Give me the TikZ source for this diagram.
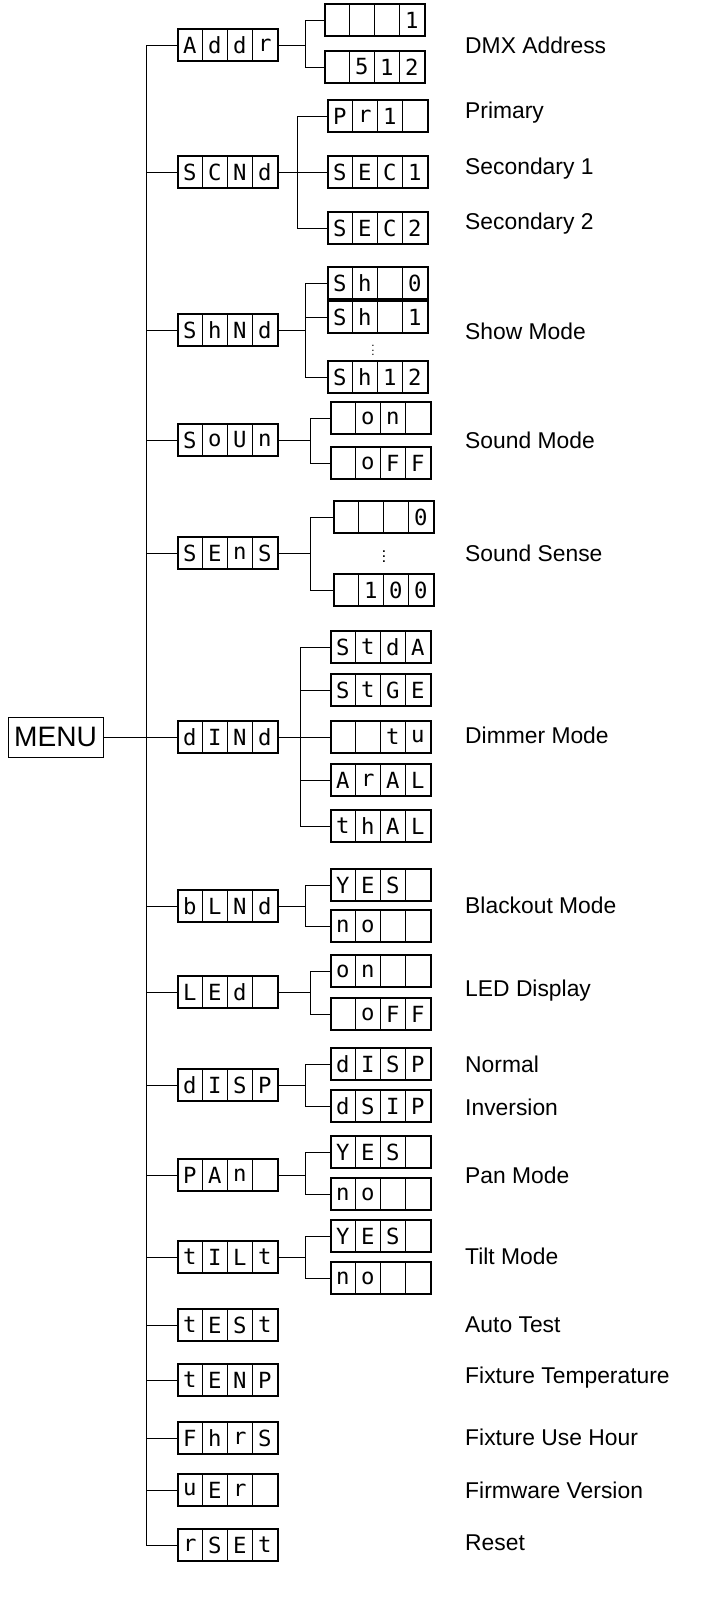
\documentclass[tikz,border=0pt]{standalone}
\usepackage{fontspec}
\setmainfont{Liberation Sans}
\newfontfamily\segfont{DejaVu Sans Mono}
\usetikzlibrary{positioning}
\tikzset{
  lcdbox/.style={draw,very thick,minimum width=3cm,minimum height=0.96cm,inner sep=0pt},
  cell/.style={inner sep=0pt,font=\segfont\fontsize{19}{19}\selectfont},
  lbl/.style={anchor=west,inner sep=0pt,font=\fontsize{19.5}{21}\selectfont},
  wire/.style={thick}
}
% name, x, y, four cells
\newcommand{\lcd}[7]{%
  \node[lcdbox] (#1) at (#2,#3) {};
  \foreach \i/\c in {1/#4,2/#5,3/#6,4/#7}{
    \node[cell] at ([xshift={(\i-0.5)*0.75cm}]#1.west) {\c};}
  \foreach \i in {1,2,3}{
    \draw[thin] ([xshift=\i*0.75cm]#1.north west) -- ([xshift=\i*0.75cm]#1.south west);}
}
\begin{document}
\begin{tikzpicture}[x=0.03cm,y=-0.03cm]
    \useasboundingbox (0,0) rectangle (710,1621);
    \node[draw,thick,minimum width=2.85cm,minimum height=1.2cm,inner sep=0pt,
          font=\fontsize{24}{26}\selectfont] (menu) at (55.5,737) {MENU};
    \coordinate (spinetop) at (146,45);
    \coordinate (spinebot) at (146,1545);
    \draw[wire] (spinetop) -- (spinebot);
    \draw[wire] (menu.east) -- (menu.east -| spinetop);
    % first level
    \lcd{addr}{228}{45}{A}{d}{d}{r}
    \lcd{scnd}{228}{172}{S}{C}{N}{d}
    \lcd{shnd}{228}{330}{S}{h}{N}{d}
    \lcd{soun}{228}{440}{S}{o}{U}{n}
    \lcd{sens}{228}{553}{S}{E}{n}{S}
    \lcd{dind}{228}{737}{d}{I}{N}{d}
    \lcd{blnd}{228}{906}{b}{L}{N}{d}
    \lcd{led}{228}{992}{L}{E}{d}{}
    \lcd{disp}{228}{1085}{d}{I}{S}{P}
    \lcd{pan}{228}{1175}{P}{A}{n}{}
    \lcd{tilt}{228}{1257}{t}{I}{L}{t}
    \lcd{test}{228}{1325}{t}{E}{S}{t}
    \lcd{temp}{228}{1380}{t}{E}{N}{P}
    \lcd{fhrs}{228}{1438}{F}{h}{r}{S}
    \lcd{ver}{228}{1490}{u}{E}{r}{}
    \lcd{rset}{228}{1545}{r}{S}{E}{t}
    \foreach \n in {addr,scnd,shnd,soun,sens,dind,blnd,led,disp,pan,tilt,test,temp,fhrs,ver,rset}
      \draw[wire] (\n.west) -- (\n.west -| spinetop);
    % second level
    \lcd{addra}{375}{20}{}{}{}{1}
    \lcd{addrb}{375}{67}{}{5}{1}{2}
    \lcd{scnda}{378}{116}{P}{r}{1}{}
    \lcd{scndb}{378}{172}{S}{E}{C}{1}
    \lcd{scndc}{378}{228}{S}{E}{C}{2}
    \lcd{shnda}{378}{283}{S}{h}{}{0}
    \lcd{shndb}{378}{317}{S}{h}{}{1}
    \lcd{shndc}{378}{377}{S}{h}{1}{2}
    \lcd{souna}{381}{418}{}{o}{n}{}
    \lcd{sounb}{381}{463}{}{o}{F}{F}
    \lcd{sensa}{384}{517}{}{}{}{0}
    \lcd{sensb}{384}{590}{}{1}{0}{0}
    \lcd{dinda}{381}{647}{S}{t}{d}{A}
    \lcd{dindb}{381}{690}{S}{t}{G}{E}
    \lcd{dindc}{381}{737}{}{}{t}{u}
    \lcd{dindd}{381}{780}{A}{r}{A}{L}
    \lcd{dinde}{381}{826}{t}{h}{A}{L}
    \lcd{blnda}{381}{885}{Y}{E}{S}{}
    \lcd{blndb}{381}{926}{n}{o}{}{}
    \lcd{leda}{381}{971}{o}{n}{}{}
    \lcd{ledb}{381}{1014}{}{o}{F}{F}
    \lcd{dispa}{381}{1064}{d}{I}{S}{P}
    \lcd{dispb}{381}{1106}{d}{S}{I}{P}
    \lcd{pana}{381}{1152}{Y}{E}{S}{}
    \lcd{panb}{381}{1194}{n}{o}{}{}
    \lcd{tilta}{381}{1236}{Y}{E}{S}{}
    \lcd{tiltb}{381}{1278}{n}{o}{}{}
    \foreach \p/\d/\kids in {addr/27/{addra,addrb},scnd/19/{scnda,scndb,scndc},
        shnd/27/{shnda,shndb,shndc},soun/32/{souna,sounb},sens/32/{sensa,sensb},
        dind/22/{dinda,dindb,dindc,dindd,dinde},blnd/27/{blnda,blndb},
        led/32/{leda,ledb},disp/27/{dispa,dispb},pan/27/{pana,panb},tilt/27/{tilta,tiltb}}{
      \draw[wire] (\p.east) -- ++(\d,0);
      \foreach \k in \kids
        \draw[wire] (\p.east) ++(\d,0) |- (\k.west);
    }
    \node[inner sep=0pt] (dotsa) at (373,347) {$\vdots$};
    \node[inner sep=0pt,font=\bfseries] (dotsb) at (384,553) {$\vdots$};
    % labels
    \foreach \y/\t in {45/DMX Address,113/Primary,169/Secondary 1,224/Secondary 2,
        331/Show Mode,440/Sound Mode,553/Sound Sense,735/Dimmer Mode,905/Blackout Mode,
        991/LED Display,1064/Normal,1107/Inversion,1175/Pan Mode,1256/Tilt Mode,
        1325/Auto Test,1378/Fixture Temperature,1437/Fixture Use Hour,
        1490/Firmware Version,1543/Reset}
      \node[lbl] at (465,\y) {\t};
\end{tikzpicture}
\end{document}
